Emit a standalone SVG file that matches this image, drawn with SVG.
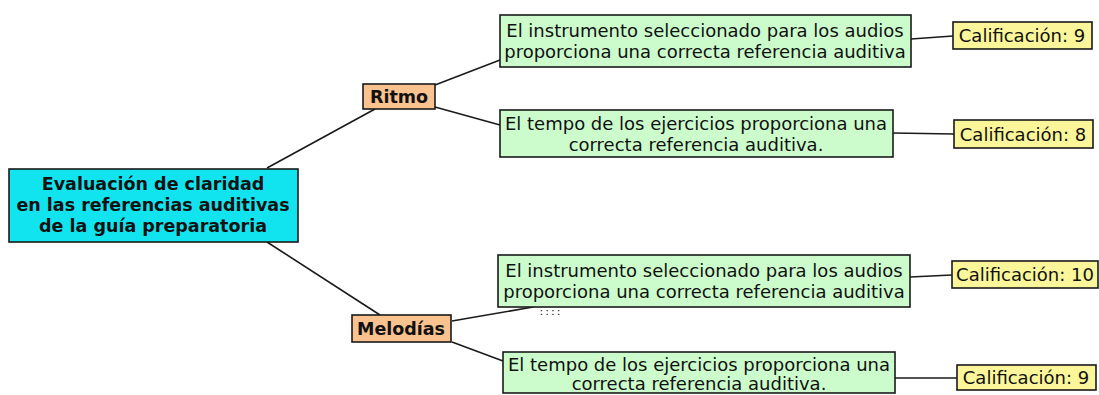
<svg xmlns="http://www.w3.org/2000/svg" width="1099" height="395" viewBox="0 0 1099 395">
<style>
.box{stroke:#1a1a1a;stroke-width:1.6}
.root{fill:#12e4ef}
.cat{fill:#f9c28f}
.item{fill:#ccfccc}
.cal{fill:#fbf69a}
text{font-family:"DejaVu Sans",Verdana,sans-serif;font-size:18px;fill:#111;text-anchor:middle}
.b{font-weight:bold;font-size:17.5px}
.c{stroke:#1a1a1a;stroke-width:1.6;fill:none}
</style>
<rect width="1099" height="395" fill="#ffffff"/>
<g id="connectors">
<line class="c" x1="267" y1="168" x2="375" y2="109"/>
<line class="c" x1="435" y1="85" x2="500" y2="60"/>
<line class="c" x1="435" y1="107" x2="500" y2="125"/>
<line class="c" x1="911" y1="39" x2="953" y2="36"/>
<line class="c" x1="893" y1="133" x2="954" y2="134"/>
<line class="c" x1="267" y1="242" x2="380" y2="315"/>
<line class="c" x1="452" y1="321" x2="533" y2="307"/>
<line class="c" x1="452" y1="342" x2="503" y2="361"/>
<line class="c" x1="910" y1="277" x2="952" y2="275"/>
<line class="c" x1="895" y1="378" x2="957" y2="378"/>
</g>
<g id="root">
<rect class="box root" x="9" y="169" width="289" height="73"/>
<text class="b" x="153" y="190">Evaluación de claridad</text>
<text class="b" x="153" y="211">en las referencias auditivas</text>
<text class="b" x="153" y="232">de la guía preparatoria</text>
</g>
<g id="ritmo">
<rect class="box cat" x="363" y="84" width="72" height="25"/>
<text class="b" x="399" y="103">Ritmo</text>
</g>
<g id="melodias">
<rect class="box cat" x="352" y="315" width="99" height="27"/>
<text class="b" x="401" y="335">Melodías</text>
</g>
<g id="r1">
<rect class="box item" x="500" y="15" width="411" height="52"/>
<text x="705" y="37">El instrumento seleccionado para los audios</text>
<text x="705" y="58">proporciona una correcta referencia auditiva</text>
</g>
<g id="r2">
<rect class="box item" x="500" y="110" width="393" height="47"/>
<text x="696" y="130">El tempo de los ejercicios proporciona una</text>
<text x="696" y="151">correcta referencia auditiva.</text>
</g>
<g id="m1">
<rect class="box item" x="498" y="255" width="412" height="52"/>
<text x="704" y="277">El instrumento seleccionado para los audios</text>
<text x="704" y="298">proporciona una correcta referencia auditiva</text>
<text x="551" y="315" style="font-size:11px;letter-spacing:2px">::::</text>
</g>
<g id="m2">
<rect class="box item" x="503" y="352" width="392" height="41"/>
<text x="699" y="371">El tempo de los ejercicios proporciona una</text>
<text x="699" y="390">correcta referencia auditiva.</text>
</g>
<g id="cal1">
<rect class="box cal" x="953" y="22" width="139" height="27"/>
<text x="1022" y="42">Calificación: 9</text>
</g>
<g id="cal2">
<rect class="box cal" x="954" y="120" width="139" height="28"/>
<text x="1023" y="141">Calificación: 8</text>
</g>
<g id="cal3">
<rect class="box cal" x="952" y="261" width="146" height="27"/>
<text x="1025" y="281">Calificación: 10</text>
</g>
<g id="cal4">
<rect class="box cal" x="957" y="365" width="139" height="25"/>
<text x="1026" y="384">Calificación: 9</text>
</g>
</svg>
